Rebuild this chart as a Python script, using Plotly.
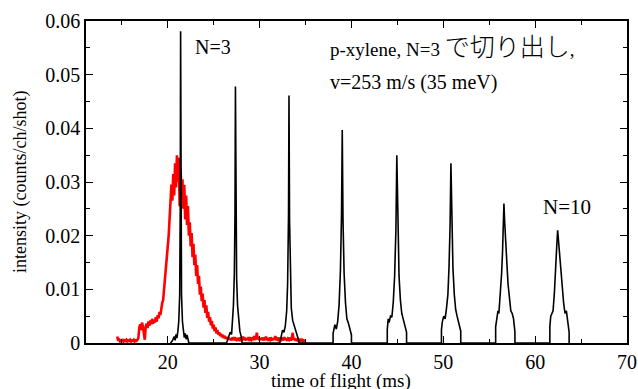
import plotly.graph_objects as go

# ---------------- data ----------------
# red trace: time grid start/step (ms) and intensities
red_t0 = 14.5
red_dt = 0.1
red_y = [
    # 14.5 - 15.4
    0.0012, 0.0004, 0.0006, 0.0003, 0.0005, 0.0004, 0.0007, 0.0003, 0.0005, 0.0004,
    # 15.5 - 16.4
    0.0006, 0.0003, 0.0005, 0.0004, 0.0006, 0.0003, 0.0005, 0.0004, 0.0006, 0.0003,
    # 16.5 - 17.4
    0.0005, 0.0004, 0.0006, 0.0009, 0.0028, 0.0035, 0.0024, 0.0038, 0.0030, 0.0020,
    # 17.5 - 18.4
    0.0006, 0.0030, 0.0036, 0.0028, 0.0040, 0.0032, 0.0042, 0.0035, 0.0045, 0.0036,
    # 18.5 - 19.4
    0.0043, 0.0038, 0.0048, 0.0040, 0.0052, 0.0046, 0.0058, 0.0052, 0.0065, 0.0075,
    # 19.5 - 20.4
    0.0080, 0.0098, 0.0112, 0.0130, 0.0150, 0.0180, 0.0200, 0.0235, 0.0250, 0.0295,
    # 20.5 - 21.4
    0.0265, 0.0315, 0.0275, 0.0335, 0.0290, 0.0350, 0.0300, 0.0345, 0.0255, 0.0325,
    # 21.5 - 22.4
    0.0270, 0.0305, 0.0250, 0.0295, 0.0230, 0.0275, 0.0220, 0.0255, 0.0200, 0.0225,
    # 22.5 - 23.4
    0.0180, 0.0205, 0.0160, 0.0185, 0.0145, 0.0165, 0.0125, 0.0145, 0.0110, 0.0125,
    # 23.5 - 24.4
    0.0090, 0.0105, 0.0078, 0.0092, 0.0066, 0.0080, 0.0056, 0.0070, 0.0047, 0.0058,
    # 24.5 - 25.4
    0.0040, 0.0048, 0.0033, 0.0041, 0.0027, 0.0034, 0.0022, 0.0029, 0.0018, 0.0024,
    # 25.5 - 26.4
    0.0016, 0.0020, 0.0013, 0.0017, 0.0011, 0.0015, 0.0009, 0.0013, 0.0008, 0.0011,
    # 26.5 - 27.4
    0.0007, 0.0010, 0.0006, 0.0009, 0.0005, 0.0008, 0.0006, 0.0011, 0.0005, 0.0008,
    # 27.5 - 28.4
    0.0006, 0.0009, 0.0004, 0.0010, 0.0006, 0.0008, 0.0005, 0.0012, 0.0006, 0.0008,
    # 28.5 - 29.4
    0.0005, 0.0009, 0.0006, 0.0011, 0.0004, 0.0008, 0.0006, 0.0010, 0.0005, 0.0013,
    # 29.5 - 30.4
    0.0006, 0.0009, 0.0019, 0.0007, 0.0011, 0.0005, 0.0009, 0.0006, 0.0010, 0.0005,
    # 30.5 - 31.4
    0.0008, 0.0006, 0.0012, 0.0005, 0.0009, 0.0004, 0.0010, 0.0006, 0.0008, 0.0005,
    # 31.5 - 32.4
    0.0009, 0.0006, 0.0013, 0.0005, 0.0008, 0.0006, 0.0010, 0.0004, 0.0009, 0.0006,
    # 32.5 - 33.4
    0.0008, 0.0005, 0.0011, 0.0006, 0.0009, 0.0004, 0.0008, 0.0006, 0.0010, 0.0005,
    # 33.5 - 34.4
    0.0008, 0.0019, 0.0006, 0.0009, 0.0004, 0.0008, 0.0005, 0.0007, 0.0004, 0.0006,
    # 34.5 - 35.0
    0.0004, 0.0006, 0.0003, 0.0005, 0.0004, 0.0003,
]
red_t = [round(red_t0 + i * red_dt, 3) for i in range(len(red_y))]

# black trace: one window per N (time in ms, intensity)
n3_t = [20.3, 20.5, 20.7, 20.8, 20.9, 21.0, 21.1, 21.2, 21.3, 21.36, 21.4, 21.45, 21.5, 21.6, 21.7, 21.8, 21.9, 22.0, 22.1, 22.2, 22.3]
n3_y = [0.0, 0.0004, 0.0012, 0.0005, 0.0016, 0.0009, 0.0022, 0.0040, 0.0090, 0.0250, 0.0581, 0.0240, 0.0090, 0.0040, 0.0026, 0.0010, 0.0018, 0.0007, 0.0015, 0.0005, 0.0]

n4_t = [26.4, 26.6, 26.8, 26.95, 27.05, 27.15, 27.25, 27.32, 27.37, 27.43, 27.5, 27.6, 27.7, 27.85, 28.0, 28.1]
n4_y = [0.0, 0.0010, 0.0020, 0.0016, 0.0040, 0.0070, 0.0130, 0.0240, 0.0478, 0.0230, 0.0120, 0.0070, 0.0042, 0.0022, 0.0012, 0.0]

n5_t = [32.2, 32.35, 32.5, 32.65, 32.8, 32.95, 33.05, 33.15, 33.2, 33.26, 33.35, 33.45, 33.6, 33.75, 33.9, 34.05, 34.2, 34.3]
n5_y = [0.0, 0.0012, 0.0024, 0.0020, 0.0032, 0.0060, 0.0110, 0.0240, 0.0461, 0.0230, 0.0115, 0.0065, 0.0042, 0.0034, 0.0024, 0.0014, 0.0008, 0.0]

n6_t = [38.0, 38.0, 38.1, 38.2, 38.35, 38.5, 38.65, 38.8, 38.92, 39.0, 39.08, 39.2, 39.35, 39.5, 39.65, 39.8, 39.9, 40.0, 40.0]
n6_y = [0.0, 0.0018, 0.0030, 0.0034, 0.0026, 0.0040, 0.0070, 0.0135, 0.0240, 0.0397, 0.0230, 0.0130, 0.0075, 0.0045, 0.0038, 0.0028, 0.0020, 0.0015, 0.0]

n7_t = [43.9, 43.9, 44.0, 44.1, 44.25, 44.4, 44.55, 44.7, 44.84, 44.94, 45.04, 45.18, 45.33, 45.48, 45.63, 45.78, 45.9, 46.0, 46.0]
n7_y = [0.0, 0.0025, 0.0045, 0.0038, 0.0050, 0.0048, 0.0075, 0.0125, 0.0210, 0.0350, 0.0220, 0.0125, 0.0080, 0.0055, 0.0045, 0.0035, 0.0028, 0.0020, 0.0]

n8_t = [49.8, 49.8, 49.9, 50.05, 50.2, 50.35, 50.5, 50.62, 50.74, 50.83, 50.92, 51.05, 51.2, 51.35, 51.5, 51.65, 51.8, 51.9, 51.9]
n8_y = [0.0, 0.0025, 0.0040, 0.0050, 0.0045, 0.0065, 0.0090, 0.0140, 0.0220, 0.0335, 0.0225, 0.0140, 0.0090, 0.0062, 0.0050, 0.0040, 0.0030, 0.0022, 0.0]

n9_t = [55.7, 55.7, 55.8, 55.95, 56.05, 56.2, 56.35, 56.45, 56.55, 56.6, 56.67, 56.8, 56.95, 57.05, 57.2, 57.35, 57.5, 57.65, 57.8, 57.8]
n9_y = [0.0, 0.0030, 0.0045, 0.0060, 0.0055, 0.0090, 0.0130, 0.0170, 0.0235, 0.0260, 0.0230, 0.0175, 0.0140, 0.0110, 0.0085, 0.0060, 0.0055, 0.0045, 0.0020, 0.0]

n10_t = [61.6, 61.6, 61.7, 61.85, 61.95, 62.1, 62.25, 62.35, 62.45, 62.52, 62.65, 62.8, 62.95, 63.1, 63.25, 63.4, 63.55, 63.7, 63.7]
n10_y = [0.0, 0.0030, 0.0050, 0.0058, 0.0060, 0.0095, 0.0135, 0.0180, 0.0210, 0.0195, 0.0165, 0.0130, 0.0100, 0.0075, 0.0055, 0.0060, 0.0040, 0.0020, 0.0]

x_ticks = [20, 30, 40, 50, 60, 70]
x_tick_labels = ["20", "30", "40", "50", "60", "70"]
y_ticks = [0, 0.01, 0.02, 0.03, 0.04, 0.05, 0.06]
y_tick_labels = ["0", "0.01", "0.02", "0.03", "0.04", "0.05", "0.06"]

# ---------------- figure ----------------
black_t = n3_t + n4_t + n5_t + n6_t + n7_t + n8_t + n9_t + n10_t
black_y = n3_y + n4_y + n5_y + n6_y + n7_y + n8_y + n9_y + n10_y

FONT = "Liberation Serif, Times New Roman, Times, DejaVu Serif, serif"
JFONT = "Liberation Serif, Times New Roman, Noto Sans CJK JP, serif"

fig = go.Figure()
fig.add_trace(go.Scatter(x=red_t, y=red_y, mode="lines",
                         line=dict(color="#ff0000", width=2.6), showlegend=False))
fig.add_trace(go.Scatter(x=black_t, y=black_y, mode="lines",
                         line=dict(color="black", width=1.6), showlegend=False))

axis_common = dict(showline=True, linecolor="black", linewidth=1.5, mirror="ticks",
                   ticks="inside", ticklen=7, tickwidth=1, tickcolor="black",
                   showgrid=False, zeroline=False, automargin=False,
                   tickfont=dict(family=FONT, size=20, color="black"))

fig.update_xaxes(range=[11.1, 70], tickvals=x_ticks, ticktext=x_tick_labels,
                 minor=dict(dtick=5, tick0=0, ticks="inside", ticklen=4, tickcolor="black"),
                 **axis_common)
fig.update_yaxes(range=[0, 0.06], tickvals=y_ticks, ticktext=y_tick_labels,
                 minor=dict(dtick=0.005, tick0=0, ticks="inside", ticklen=4, tickcolor="black"),
                 **axis_common)

title_line1 = ('p-xylene, N=3 <span style="font-size:25px;font-weight:300">で切り出し</span>,')
annots = [
    dict(text="N=3", x=193, y=47, xanchor="left", size=20),
    dict(text=title_line1, x=328, y=47, xanchor="left", font=JFONT, size=19),
    dict(text="v=253 m/s (35 meV)", x=328, y=82, xanchor="left", size=20),
    dict(text="N=10", x=541, y=207, xanchor="left", size=21),
    dict(text="time of flight (ms)", x=341, y=381, xanchor="center", size=19),
    dict(text="intensity (counts/ch/shot)", x=20, y=182, xanchor="center", size=18, angle=-90),
]
W, H = 638, 389
for a in annots:
    fig.add_annotation(
        text=a["text"], xref="paper", yref="paper",
        x=(a["x"] - 86) / (627 - 86), y=(343 - a["y"]) / (343 - 21),
        xanchor=a["xanchor"], yanchor="middle", showarrow=False,
        textangle=a.get("angle", 0),
        font=dict(family=a.get("font", FONT), size=a.get("size", 20), color="black"),
    )

fig.update_layout(width=W, height=H, margin=dict(l=86, r=11, t=21, b=46),
                  font=dict(family=FONT, color="black"),
                  plot_bgcolor="white", paper_bgcolor="white")

fig.write_html("out.html", config={"displayModeBar": False},
               post_script="document.body.style.margin='0';document.body.style.overflow='hidden';")
